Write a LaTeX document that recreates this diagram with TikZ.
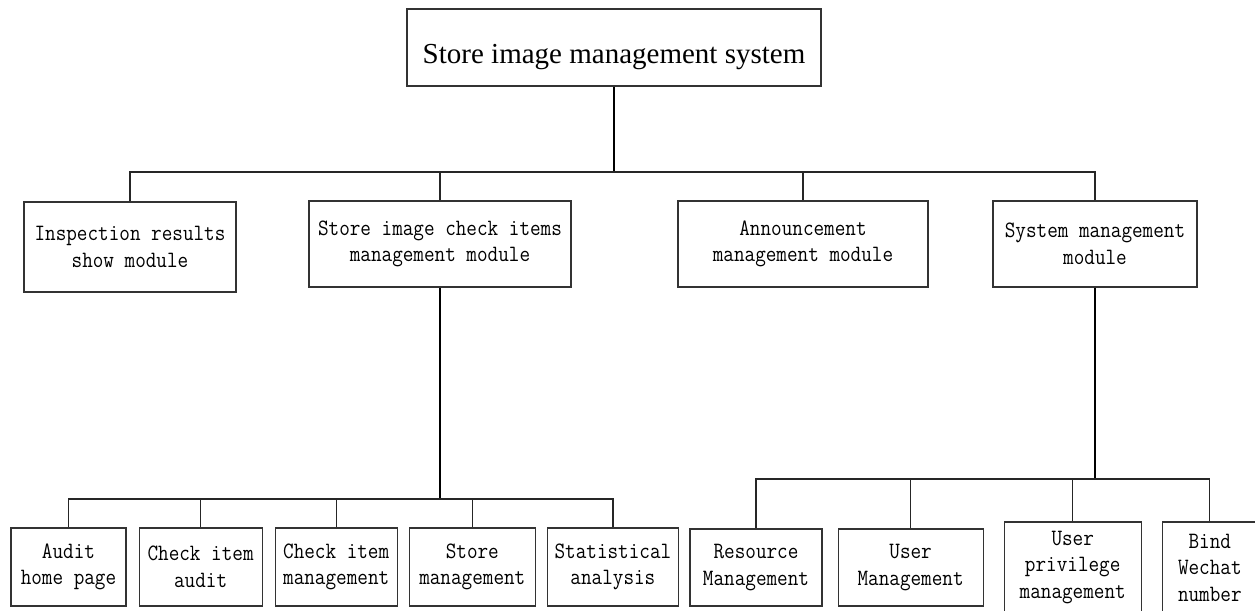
\documentclass[tikz,border=0pt]{standalone}
\usepackage{fontspec}
\setmonofont[FakeStretch=0.88]{Latin Modern Mono}
\newfontfamily\titlefont{Liberation Serif}
\usetikzlibrary{positioning}

\begin{document}
\begin{tikzpicture}[
    x=1pt, y=-1pt,
    box/.style = {rectangle, draw=black!80, line width=1.1pt, inner sep=0pt,
                  align=center, font=\ttfamily\fontsize{23.4}{26.5}\selectfont},
    module/.style = {box, minimum height=86pt},
    leaf/.style = {box, minimum height=78pt},
    trunk/.style = {line width=2pt, black},
    branch/.style = {line width=1.2pt, black!85}
]
\useasboundingbox (0,0) rectangle (1255,612);
\clip (0,0) rectangle (1255,610.5);

% --- Root ---
\node[box, font=\titlefont\fontsize{29}{34}\selectfont, minimum width=414pt,
      minimum height=77pt, text height=33pt, text depth=0pt]
      (root) at (614,47.5) {Store image management system};

% --- Modules ---
\node[module, minimum width=212pt, minimum height=90pt] (insp) at (130,247) {Inspection results\\show module};
\node[module, minimum width=262pt] (check) at (440,244) {Store image check items\\management module};
\node[module, minimum width=250pt] (notice) at (803,244) {Announcement\\management module};
\node[module, minimum width=204pt] (sys) at (1095,244) {System management\\module};

% --- Check item functions ---
\node[leaf, minimum width=115pt] (audit) at (68.5,567) {Audit\\home page};
\node[leaf, minimum width=123pt, right=12pt of audit] (caudit) {Check item\\audit};
\node[leaf, minimum width=122pt, right=12pt of caudit] (cmanage) {Check item\\management};
\node[leaf, minimum width=126pt, right=11pt of cmanage] (smanage) {Store\\management};
\node[leaf, minimum width=131pt, right=11pt of smanage] (stat) {Statistical\\analysis};

% --- System functions ---
\node[leaf, minimum width=132pt, minimum height=77pt] (resource) at (756,567.5) {Resource\\Management};
\node[leaf, minimum width=145pt, minimum height=77pt, right=15pt of resource] (user) {User\\Management};
\node[leaf, minimum width=137pt, minimum height=91pt, right=20pt of user] (priv) {User\\privilege\\management};
\node[leaf, minimum width=95pt, minimum height=91pt, right=20pt of priv] (bind) {Bind\\Wechat\\number};

% --- Connectors ---
\coordinate (busTop) at (614,172);
\coordinate (busLeft) at (440,499);
\coordinate (busRight) at (1095,479);

\draw[trunk] (root.south) -- (busTop);
\foreach \n in {insp,check,notice,sys}
    \draw[branch] (\n.north) |- (busTop);

\draw[trunk] (check.south) -- (busLeft);
\foreach \n in {audit,caudit,cmanage,smanage,stat}
    \draw[branch] (\n.north) |- (busLeft);

\draw[trunk] (sys.south) -- (busRight);
\foreach \n in {resource,user,priv,bind}
    \draw[branch] (\n.north) |- (busRight);

\end{tikzpicture}
\end{document}
